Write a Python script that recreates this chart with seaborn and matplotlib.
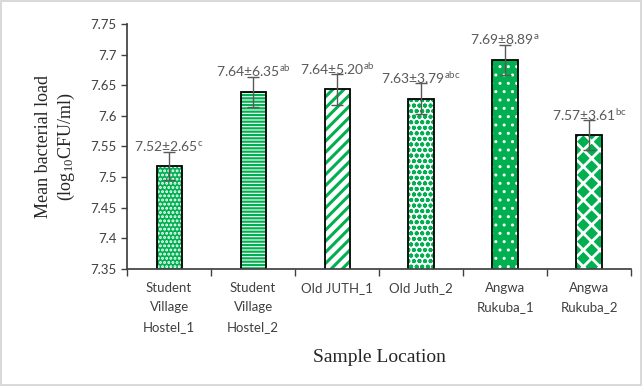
import numpy as np
import pandas as pd
import seaborn as sns
import matplotlib.pyplot as plt

locations = ["Student\nVillage\nHostel_1", "Student\nVillage\nHostel_2", "Old JUTH_1",
             "Old Juth_2", "Angwa\nRukuba_1", "Angwa\nRukuba_2"]
means = [7.518, 7.639, 7.643, 7.628, 7.691, 7.569]
errors = [0.023, 0.025, 0.025, 0.025, 0.025, 0.024]
labels = ["7.52±2.65", "7.64±6.35", "7.64±5.20", "7.63±3.79", "7.69±8.89", "7.57±3.61"]
letters = ["c", "ab", "ab", "abc", "a", "bc"]

df = pd.DataFrame({"loc": locations, "mean": means})

sns.set_theme(style="ticks")
plt.rcParams["font.family"] = ["Lato", "DejaVu Sans"]
plt.rcParams["mathtext.default"] = "regular"

green = "#00B050"
fig = plt.figure(figsize=(6.42, 3.86), dpi=100, edgecolor="#d9d9d9", linewidth=1.5)
ax = fig.add_axes([0.198, 0.303, 0.785, 0.635])

# hatch style per bar: (face, hatch colour, hatch, hatch linewidth)
styles = [(green, "white", "....", 1.4),
          ("white", green, "-----", 1.6),
          ("white", green, "///", 2.2),
          ("white", green, "ooo", 1.3),
          (green, "white", "..", 1.0),
          (green, "white", "xx", 2.0)]

sns.barplot(data=df, x="loc", y="mean", width=0.3, ax=ax, errorbar=None)
for p, (fc, hc, h, lw) in zip(ax.patches, styles):
    p.set_facecolor(fc)
    p.set_edgecolor(hc)
    p.set_hatch(h)
    p.set_linewidth(0)
    if hasattr(p, "set_hatch_linewidth"):
        p.set_hatch_linewidth(lw)
# outlines
sns.barplot(data=df, x="loc", y="mean", width=0.3, ax=ax, errorbar=None,
            fill=False, edgecolor="black", linewidth=1.3)

x = np.arange(len(locations))
ax.errorbar(x, means, yerr=errors, fmt="none", ecolor="#595959",
            elinewidth=1, capsize=4, capthick=1, zorder=5)
for i in x:
    ax.annotate(f"{labels[i]}$^{{{letters[i]}}}$", (i, means[i] + errors[i]),
                xytext=(0, 4), textcoords="offset points", ha="center", va="center",
                fontsize=10, color="#595959", zorder=6)

ax.set_ylim(7.35, 7.75)
ax.set_yticks(np.arange(7.35, 7.751, 0.05))
ax.set_yticklabels(["7.35", "7.4", "7.45", "7.5", "7.55", "7.6", "7.65", "7.7", "7.75"])
ax.set_xlim(-0.5, len(locations) - 0.5)
ax.set_xticks(np.arange(-0.5, len(locations), 1), minor=True)
ax.tick_params(axis="x", which="major", length=0, labelsize=9.5, pad=9, colors="#404040")
ax.tick_params(axis="x", which="minor", length=5, width=1, color="#404040")
ax.tick_params(axis="y", length=4, width=1, labelsize=9.5, colors="#404040")
for t in ax.get_xticklabels():
    t.set_linespacing(1.75)

sns.despine(ax=ax)
ax.spines["left"].set_color("#404040")
ax.spines["bottom"].set_color("#404040")

ax.set_xlabel("Sample Location", family="Liberation Serif", fontsize=14, labelpad=12)
ax.set_ylabel("Mean bacterial load\n(log$_{10}$CFU/ml)", family="Liberation Serif",
              fontsize=13, labelpad=10)

fig.savefig("out.png", dpi=100, edgecolor=fig.get_edgecolor())
